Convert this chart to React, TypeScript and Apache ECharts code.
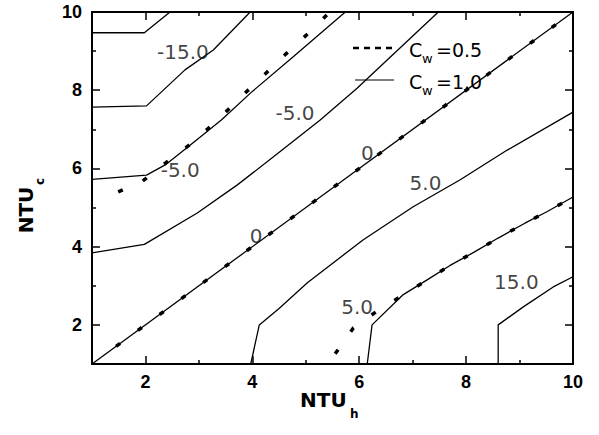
import React, { useEffect, useRef } from "react";
import * as echarts from "echarts";

// Axis ticks
const xMajorTicks = [2, 4, 6, 8, 10];
const xMinorTicks = [3, 5, 7, 9];
const yMajorTicks = [2, 4, 6, 8, 10];
const yMinorTicks = [3, 5, 7, 9];

// Contours for Cw = 1.0 (solid)
const contourM15a: number[][] = [[1, 9.47], [1.98, 9.47], [2.46, 10]];
const contourM15b: number[][] = [[1, 7.57], [2.02, 7.6], [2.74, 8.52], [3.27, 9.03], [3.96, 10]];
const contourM5a: number[][] = [[1, 5.72], [2.02, 5.83], [2.37, 6.09], [2.84, 6.6], [3.42, 7.24], [4.0, 7.97], [4.76, 8.85], [5.74, 10]];
const contourM5b: number[][] = [[1, 3.84], [1.98, 4.06], [2.97, 4.86], [3.72, 5.58], [4.39, 6.29], [5.27, 7.24], [5.96, 8.05], [7.48, 10]];
const contourZero: number[][] = [[1, 1], [10, 10]];
const contourP5a: number[][] = [[3.97, 1], [4.13, 2], [4.5, 2.42], [5.03, 3.08], [6.07, 4.17], [7.01, 5.02], [7.89, 5.71], [8.77, 6.47], [10, 7.44]];
const contourP5b: number[][] = [[6.15, 1], [6.24, 2], [6.81, 2.76], [7.27, 3.15], [7.7, 3.52], [8.15, 3.86], [8.6, 4.22], [9.1, 4.6], [9.52, 4.9], [10, 5.27]];
const contourP15: number[][] = [[8.6, 1], [8.6, 2], [9.07, 2.46], [9.63, 2.97], [10, 3.23]];

// Contours for Cw = 0.5 (dotted)
const dotM5: number[][] = [[1.49, 5.4], [1.93, 5.66], [2.33, 6.09], [2.85, 6.63], [3.3, 7.17], [3.73, 7.75], [4.18, 8.34], [4.63, 8.93], [5.1, 9.52], [5.45, 10]];
const dotZero: number[][] = [[1.45, 1.45], [10, 10]];
const dotP5: number[][] = [[5.55, 1.26], [5.89, 1.92], [6.34, 2.36], [6.82, 2.76], [7.27, 3.15], [7.7, 3.52], [8.15, 3.86], [8.6, 4.22], [9.1, 4.6], [9.52, 4.9], [10, 5.27]];

// Contour labels [x, y, text]
const contourLabels: [number, number, string][] = [
  [2.7, 8.98, "-15.0"],
  [4.8, 7.42, "-5.0"],
  [2.65, 5.96, "-5.0"],
  [6.15, 6.4, "0"],
  [4.07, 4.28, "0"],
  [7.24, 5.63, "5.0"],
  [5.96, 2.46, "5.0"],
  [8.94, 3.1, "15.0"],
];

const solidContours = [contourM15a, contourM15b, contourM5a, contourM5b, contourZero, contourP5a, contourP5b, contourP15];
const dottedContours = [dotM5, dotZero, dotP5];

const tickLabelStyle = {
  color: "#000",
  fontSize: 18,
  fontWeight: "bold" as const,
  fontFamily: "Liberation Sans, Arial, sans-serif",
};

function makeAxis(dim: "x" | "y", position: string, ticks: number[], len: number, withLine: boolean, withLabels: boolean) {
  return {
    type: "value",
    min: 1,
    max: 10,
    position,
    axisLine: { show: withLine, onZero: false, lineStyle: { color: "#000", width: 2 } },
    axisTick: { show: true, inside: true, length: len, customValues: ticks, lineStyle: { color: "#000", width: 1.5 } },
    axisLabel: withLabels
      ? { show: true, customValues: ticks, margin: dim === "x" ? 9 : 10, ...tickLabelStyle }
      : { show: false },
    splitLine: { show: false },
  };
}

function txt(x: number, y: number, text: string, font: string, align = "left") {
  return {
    type: "text",
    x,
    y,
    silent: true,
    style: {
      text,
      font,
      fill: "#000",
      align,
      textAlign: align,
      verticalAlign: "middle",
      textVerticalAlign: "middle",
    },
  };
}

export default function App() {
  const ref = useRef<HTMLDivElement>(null);
  useEffect(() => {
    const chart = echarts.init(ref.current!, null, { renderer: "svg" });
    const series: any[] = [];
    solidContours.forEach((d) =>
      series.push({
        type: "line",
        data: d,
        symbol: "none",
        silent: true,
        lineStyle: { color: "#000", width: 1.3 },
        z: 2,
      })
    );
    dottedContours.forEach((d) =>
      series.push({
        type: "line",
        data: d,
        symbol: "none",
        silent: true,
        lineStyle: { color: "#000", width: 3.5, type: [5, 22] },
        z: 3,
      })
    );
    series.push({
      type: "scatter",
      data: contourLabels.map(([x, y, t]) => ({ value: [x, y], name: t })),
      symbolSize: 1,
      silent: true,
      itemStyle: { color: "rgba(0,0,0,0)" },
      label: {
        show: true,
        position: "inside",
        formatter: "{b}",
        fontSize: 20,
        color: "#111",
        fontFamily: "DejaVu Sans, sans-serif",
      },
      z: 4,
    });

    const regular19 = '19px "DejaVu Sans", sans-serif';
    const sub13 = '13px "DejaVu Sans", sans-serif';

    chart.setOption({
      animation: false,
      backgroundColor: "#fff",
      grid: { left: 92, right: 26, top: 12, bottom: 71 },
      xAxis: [
        makeAxis("x", "bottom", xMajorTicks, 8, true, true),
        makeAxis("x", "bottom", xMinorTicks, 4, false, false),
        makeAxis("x", "top", xMajorTicks, 8, true, false),
        makeAxis("x", "top", xMinorTicks, 4, false, false),
      ],
      yAxis: [
        makeAxis("y", "left", yMajorTicks, 8, true, true),
        makeAxis("y", "left", yMinorTicks, 4, false, false),
        makeAxis("y", "right", yMajorTicks, 8, true, false),
        makeAxis("y", "right", yMinorTicks, 4, false, false),
      ],
      series,
      graphic: [
        // legend
        { type: "line", silent: true, shape: { x1: 353, y1: 48, x2: 396, y2: 48 }, style: { stroke: "#000", lineWidth: 2.5, lineDash: [6, 5] } },
        { type: "line", silent: true, shape: { x1: 355, y1: 80, x2: 394, y2: 80 }, style: { stroke: "#000", lineWidth: 1.2 } },
        txt(409, 50, "C", regular19),
        txt(422, 58, "w", sub13),
        txt(436, 50, "=0.5", regular19),
        txt(409, 82, "C", regular19),
        txt(422, 90, "w", sub13),
        txt(436, 82, "=1.0", regular19),
        // x axis title
        txt(300, 400, "NTU", 'bold 20px "DejaVu Sans", sans-serif'),
        txt(350, 414, "h", 'bold 12px "DejaVu Sans", sans-serif'),
        // y axis title (rotated)
        {
          type: "group",
          x: 26,
          y: 210,
          rotation: Math.PI / 2,
          children: [
            txt(0, 0, "NTU", 'bold 20px "DejaVu Sans", sans-serif', "center"),
            txt(25, 14, "c", 'bold 12px "DejaVu Sans", sans-serif'),
          ],
        },
      ],
    });
    return () => chart.dispose();
  }, []);
  return (
    <div
      ref={ref}
      style={{ position: "absolute", left: 0, top: 0, width: 599, height: 435, background: "#fff" }}
    />
  );
}
